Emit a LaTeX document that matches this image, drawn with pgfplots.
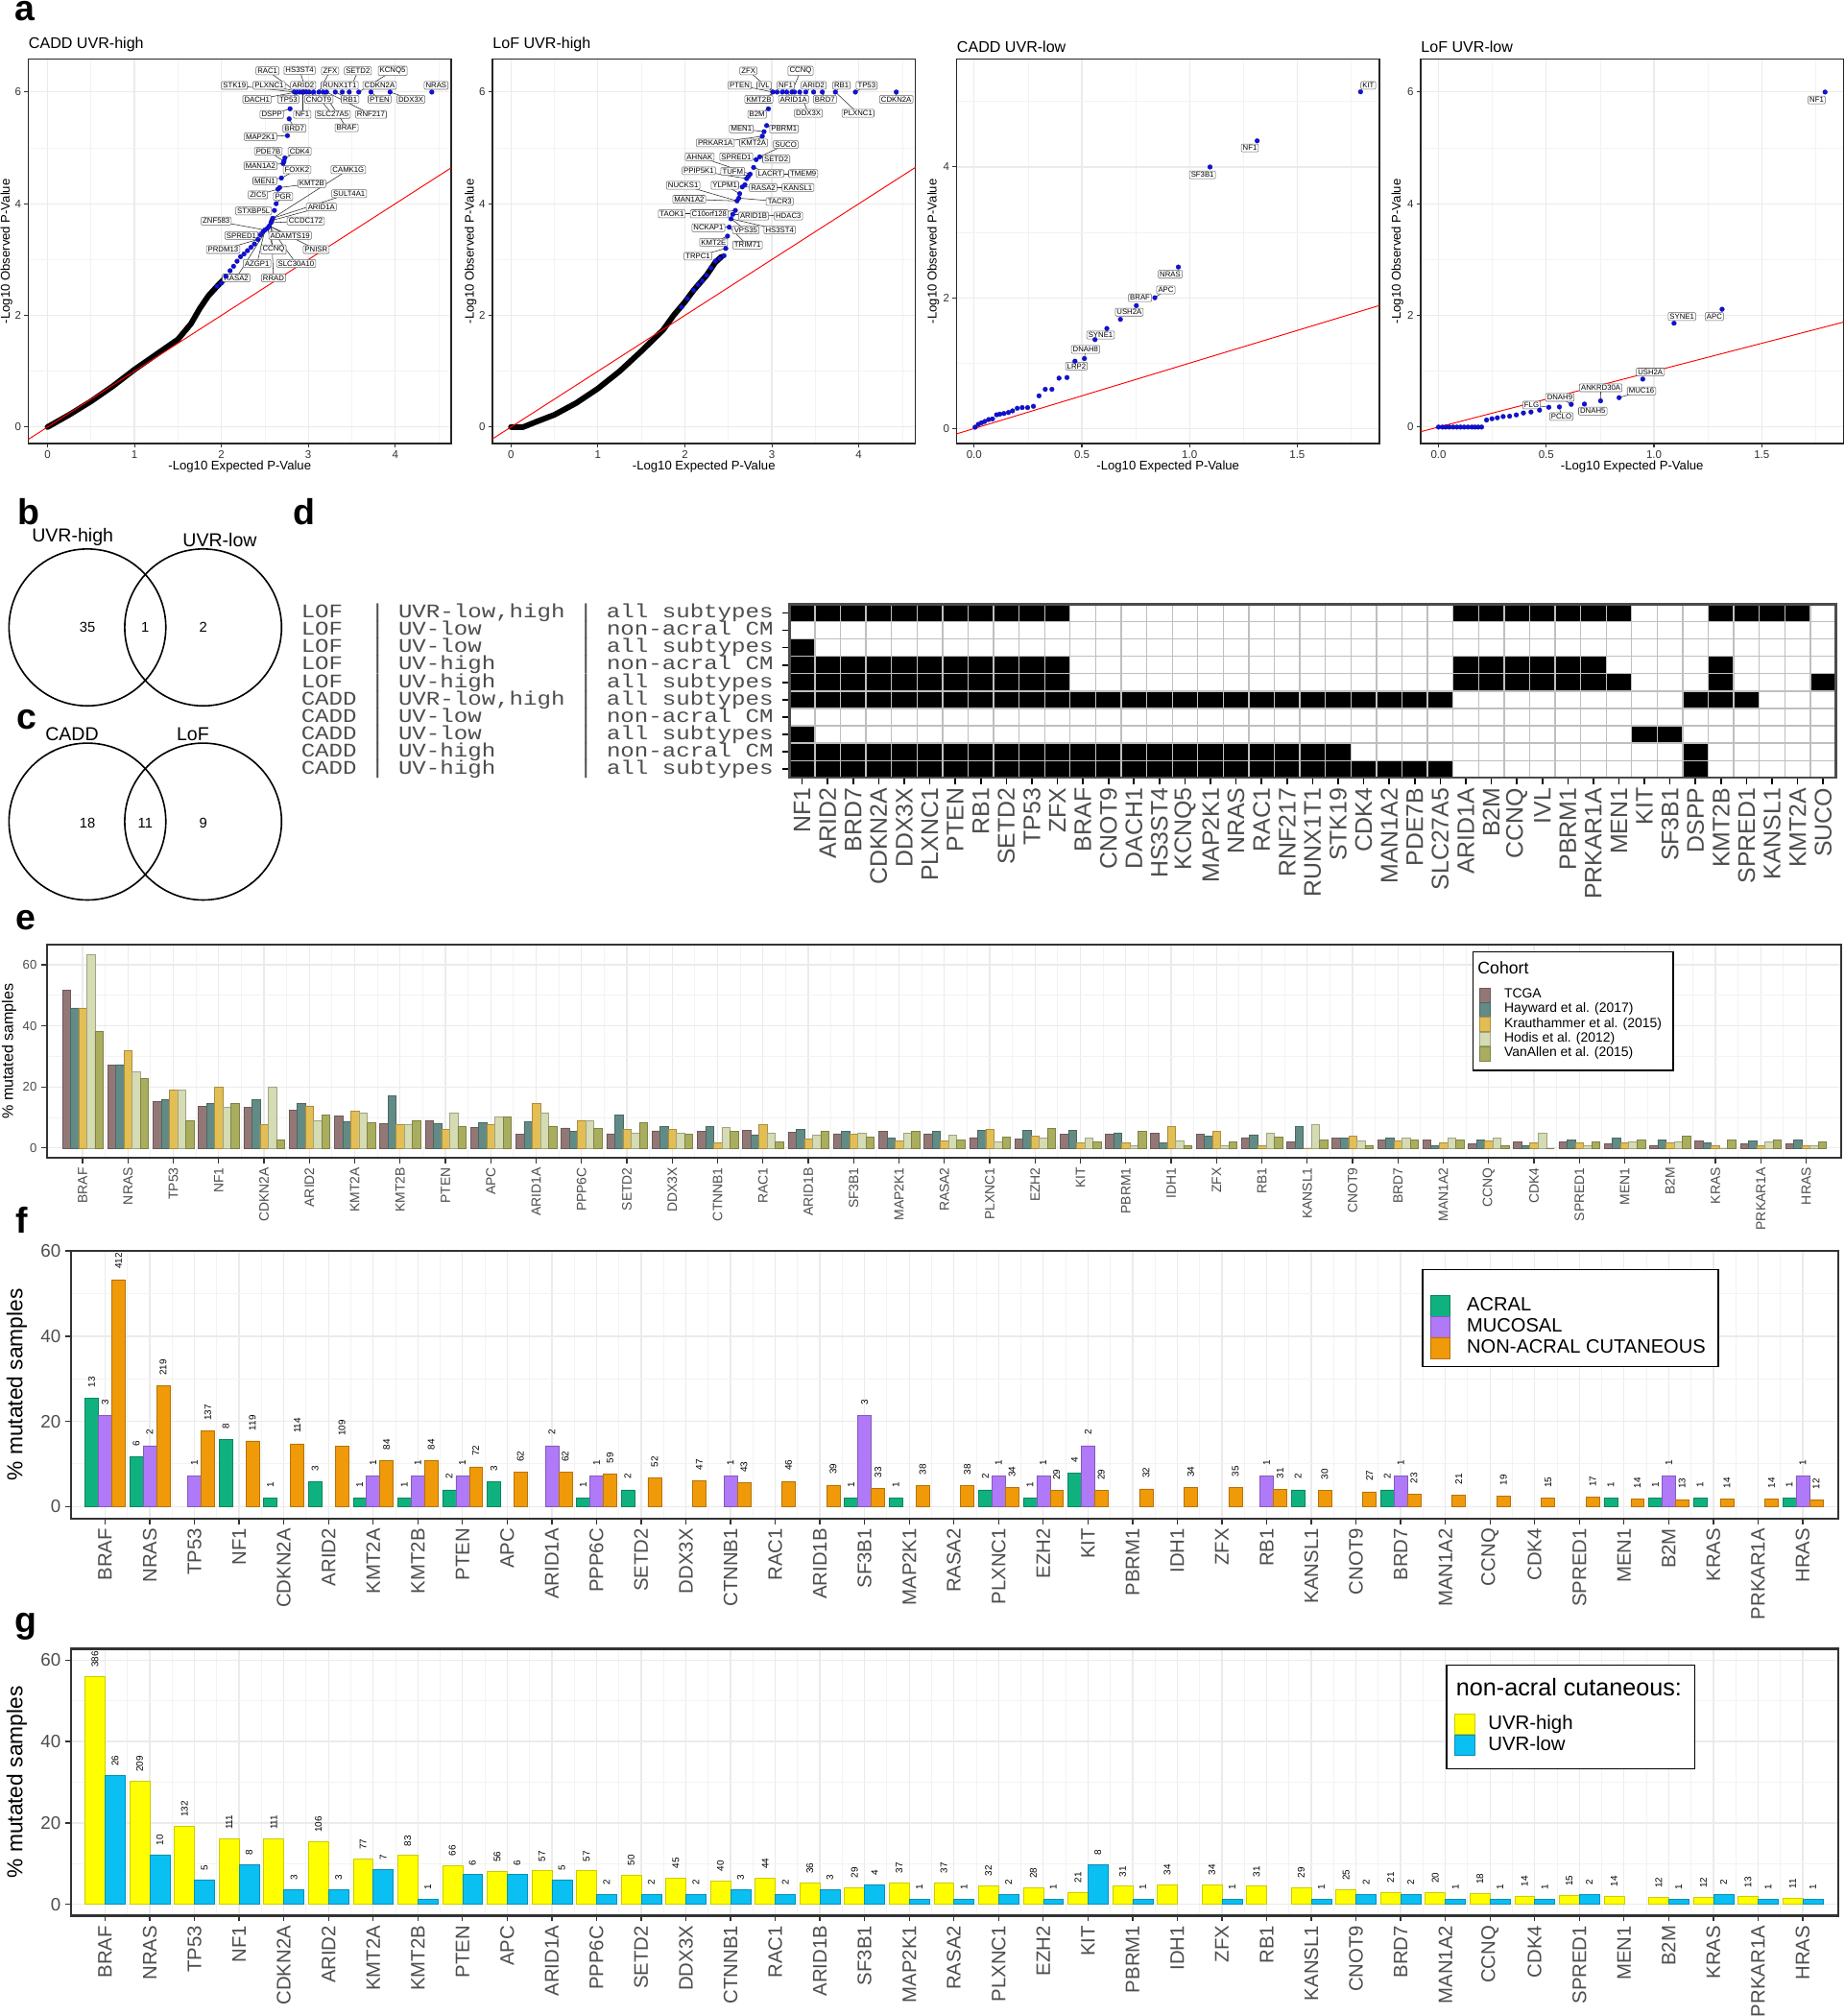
\documentclass[border=0pt]{standalone}
\usepackage{fontspec}
\setmainfont{Liberation Sans}
\setsansfont{Liberation Sans}
\newfontfamily\rowfont[FakeStretch=1.2]{Liberation Mono}
\usepackage{pgfplots}
\usepackage{pgfplotstable}
\pgfplotsset{compat=1.18}
\newcommand\fs[1]{\fontsize{#1}{#1}\selectfont}
\definecolor{gridc}{HTML}{EBEBEB}
\definecolor{tickc}{HTML}{4D4D4D}
\definecolor{ptblue}{HTML}{1010E0}
\definecolor{cTCGA}{HTML}{937777}
\definecolor{cHay}{HTML}{638B85}
\definecolor{cKra}{HTML}{E3BE55}
\definecolor{cHod}{HTML}{D5DBB2}
\definecolor{cVan}{HTML}{A9AE5E}
\definecolor{cAcr}{HTML}{0FB27F}
\definecolor{cMuc}{HTML}{AF79F7}
\definecolor{cNon}{HTML}{F09A0A}
\definecolor{cHigh}{HTML}{FFFF00}
\definecolor{cLow}{HTML}{0ABFF2}
\tikzset{gl/.style={draw=black!60, fill=white, rounded corners=0.4pt, inner xsep=0.6pt, inner ysep=0.5pt, line width=0.2pt, font=\fs{2.9}}}
\pgfplotsset{
  every axis/.append style={scale only axis, clip=false, /pgf/number format/assume math mode=true},
  qq/.style={anchor=north west, width=164.5pt, height=149.5pt,
    axis line style={draw=black!85, line width=0.6pt},
    grid=both, major grid style={draw=gridc, line width=0.45pt}, minor grid style={draw=gridc!60!white, line width=0.3pt},
    tick align=outside, major tick length=1.6pt, minor tick length=0pt,
    xtick pos=bottom, ytick pos=left,
    tick style={draw=black!80, line width=0.4pt},
    tick label style={font=\fs{4.3}, color=black!80, inner sep=1pt}},
  bars/.style={anchor=north west,
    xtick={1,...,39},
    xticklabels={BRAF,NRAS,TP53,NF1,CDKN2A,ARID2,KMT2A,KMT2B,PTEN,APC,ARID1A,PPP6C,SETD2,DDX3X,CTNNB1,RAC1,ARID1B,SF3B1,MAP2K1,RASA2,PLXNC1,EZH2,KIT,PBRM1,IDH1,ZFX,RB1,KANSL1,CNOT9,BRD7,MAN1A2,CCNQ,CDK4,SPRED1,MEN1,B2M,KRAS,PRKAR1A,HRAS},
    minor xtick={1.5,2.5,...,38.5},
    ytick={0,20,40,60}, minor ytick={10,30,50},
    grid=both, major grid style={draw=gridc, line width=0.5pt}, minor grid style={draw=gridc!60!white, line width=0.35pt},
    tick align=outside, major tick length=2.2pt, minor tick length=0pt,
    xtick pos=bottom, ytick pos=left,
    tick style={draw=black!80, line width=0.5pt},
    axis line style={draw=black!80, line width=0.8pt},
    x tick label style={rotate=90, anchor=east, color=tickc, inner sep=1.5pt},
    y tick label style={color=tickc, inner sep=1.5pt},
    legend cell align=left},
  lab/.style={nodes near coords, point meta=explicit symbolic,
    every node near coord/.append style={rotate=90, anchor=west, font=\fs{3.7}, inner xsep=#1, inner ysep=0pt, text=black}},
}
\newcommand\blk[4]{\addplot[fill=black, draw=none] coordinates {(#1,#3)(#2,#3)(#2,#4)(#1,#4)};}
\newcommand\lead[4]{\draw[black!85, line width=0.2pt] (axis cs:#1,#2) -- (axis cs:#3,#4);}

\pgfplotstableread{
x tcga hay kra hod van
1 51.7 45.9 45.9 63.5 38.2
2 27.1 27.3 32.0 25.0 22.8
3 15.2 15.9 19.1 19.1 9.1
4 13.6 14.7 19.9 13.4 14.5
5 13.4 15.9 7.7 20.1 2.8
6 12.5 14.7 13.8 9.1 10.9
7 10.4 8.7 12.2 11.6 8.2
8 7.9 17.0 7.7 7.7 9.1
9 9.0 8.1 6.1 11.6 7.2
10 6.8 8.2 7.7 10.1 10.1
11 4.6 8.7 14.5 11.6 7.2
12 6.6 5.4 9.1 9.1 6.5
13 4.7 10.9 6.2 5.0 8.2
14 5.6 7.1 6.1 5.0 4.5
15 5.5 7.1 1.7 6.7 5.4
16 5.9 4.4 7.7 5.0 1.9
17 5.1 6.1 3.0 4.4 5.4
18 4.7 5.4 4.5 5.0 3.7
19 5.4 3.3 2.3 5.0 5.4
20 4.7 5.4 2.3 4.3 2.7
21 3.4 5.9 6.2 1.9 3.7
22 3.0 5.9 3.8 3.3 6.5
23 4.6 5.9 1.7 3.3 1.9
24 4.6 5.0 1.7 0.9 5.4
25 4.9 1.7 7.0 2.5 0.9
26 4.6 3.8 5.4 0.9 1.9
27 3.4 4.4 0.9 5.0 3.7
28 2.1 7.1 0.0 7.7 2.7
29 3.3 3.3 3.8 2.5 0.9
30 2.7 3.3 2.3 3.3 2.7
31 2.7 0.9 1.7 3.3 2.7
32 1.5 2.7 2.3 3.3 0.9
33 2.1 0.9 1.7 5.0 0.0
34 1.9 2.7 1.7 0.9 1.9
35 1.3 3.3 1.7 1.9 2.7
36 0.9 2.7 1.7 1.9 3.8
37 2.3 1.7 0.9 0.0 2.7
38 1.5 2.3 0.9 1.9 2.7
39 1.5 2.7 0.9 0.9 1.9
}\tabE

\begin{document}
\begin{tikzpicture}
\path[use as bounding box, fill=white] (0,0) rectangle (717.5pt,784pt);

% ---------------- panel a, plot 1 ----------------
\begin{axis}[qq, at={(11pt,761pt)}, xmin=-0.221, xmax=4.644, ymin=-0.295, ymax=6.59,
  xtick={0,1,2,3,4}, minor xtick={0.5,1.5,2.5,3.5,4.5}, ytick={0,2,4,6}, minor ytick={1,3,5}]
\addplot[black, line width=2.2pt, line cap=round, line join=round] coordinates {(0,0)(0.25,0.22)(0.5,0.46)(0.75,0.73)(1.0,1.03)(1.25,1.3)(1.5,1.57)(1.65,1.85)(1.75,2.12)(1.85,2.35)(1.95,2.52)(2.05,2.68)};
\addplot[red, line width=0.35pt] coordinates {(-0.221,-0.221)(4.644,4.644)};
\addplot[only marks, mark=*, mark size=0.9pt, color=ptblue, mark options={draw=ptblue!60!black, line width=0.1pt}] coordinates {(1.95,2.52)(2.0,2.58)(2.05,2.7)(2.1,2.8)(2.14,2.88)(2.18,2.97)(2.22,3.05)(2.26,3.1)(2.3,3.16)(2.34,3.22)(2.38,3.28)(2.42,3.36)(2.45,3.44)(2.48,3.5)(2.5,3.53)(2.53,3.56)(2.55,3.6)(2.57,3.66)(2.58,3.7)(2.59,3.74)(2.61,3.88)(2.63,4.0)(2.65,4.26)(2.67,4.29)(2.69,4.46)(2.71,4.72)(2.72,4.76)(2.73,4.82)(2.76,5.22)(2.78,5.52)(2.79,5.70)(2.84,6)(2.87,6)(2.9,6)(2.93,6)(2.95,6)(2.98,6)(3.01,6)(3.06,6)(3.12,6)(3.17,6)(3.21,6)(3.31,6)(3.39,6)(3.47,6)(3.58,6)(3.72,6)(3.94,6)(4.42,6)};
\lead{2.53}{6.38}{2.87}{6}\lead{2.90}{6.39}{2.98}{6}\lead{3.25}{6.38}{3.12}{6}\lead{3.57}{6.38}{3.47}{6}
\lead{3.97}{6.38}{3.58}{6}\lead{2.15}{6.12}{2.84}{6}\lead{2.55}{6.12}{2.9}{6}\lead{2.94}{6.12}{2.95}{6}
\lead{2.41}{5.87}{2.87}{6}\lead{2.77}{5.87}{2.9}{6}\lead{3.12}{5.87}{3.01}{6}\lead{3.48}{5.87}{3.31}{6}
\lead{3.82}{5.87}{3.72}{6}\lead{4.18}{5.87}{3.94}{6}\lead{2.93}{5.60}{2.93}{6}\lead{3.28}{5.60}{3.06}{6}
\lead{3.72}{5.60}{3.21}{6}\lead{3.44}{5.36}{3.17}{6}\lead{2.58}{5.60}{2.79}{5.70}\lead{2.84}{5.35}{2.78}{5.52}
\lead{2.45}{5.20}{2.76}{5.22}\lead{2.90}{4.94}{2.73}{4.82}\lead{2.54}{4.94}{2.72}{4.76}\lead{2.45}{4.68}{2.71}{4.72}
\lead{2.87}{4.61}{2.69}{4.46}\lead{2.50}{4.41}{2.69}{4.46}\lead{3.04}{4.36}{2.67}{4.29}\lead{2.42}{4.16}{2.65}{4.26}
\lead{2.71}{4.13}{2.63}{4.0}\lead{2.37}{3.87}{2.61}{3.88}\lead{3.46}{4.61}{2.59}{3.74}\lead{3.47}{4.18}{2.59}{3.74}
\lead{3.15}{3.94}{2.58}{3.7}\lead{2.97}{3.69}{2.57}{3.66}\lead{1.94}{3.69}{2.5}{3.53}\lead{2.23}{3.43}{2.48}{3.5}
\lead{2.79}{3.43}{2.55}{3.6}\lead{2.02}{3.18}{2.42}{3.36}\lead{2.60}{3.18}{2.53}{3.56}\lead{3.09}{3.18}{2.55}{3.6}
\lead{2.41}{2.93}{2.5}{3.53}\lead{2.86}{2.93}{2.55}{3.6}\lead{2.17}{2.67}{2.53}{3.56}\lead{2.60}{2.67}{2.57}{3.66}
\node[gl] at (axis cs:2.53,6.38) {RAC1};
\node[gl] at (axis cs:2.90,6.39) {HS3ST4};
\node[gl] at (axis cs:3.25,6.38) {ZFX};
\node[gl] at (axis cs:3.57,6.38) {SETD2};
\node[gl] at (axis cs:3.97,6.38) {KCNQ5};
\node[gl] at (axis cs:2.15,6.12) {STK19};
\node[gl] at (axis cs:2.55,6.12) {PLXNC1};
\node[gl] at (axis cs:2.94,6.12) {ARID2};
\node[gl] at (axis cs:3.36,6.12) {RUNX1T1};
\node[gl] at (axis cs:3.82,6.12) {CDKN2A};
\node[gl] at (axis cs:4.47,6.12) {NRAS};
\node[gl] at (axis cs:2.41,5.87) {DACH1};
\node[gl] at (axis cs:2.77,5.87) {TP53};
\node[gl] at (axis cs:3.12,5.87) {CNOT9};
\node[gl] at (axis cs:3.48,5.87) {RB1};
\node[gl] at (axis cs:3.82,5.87) {PTEN};
\node[gl] at (axis cs:4.18,5.87) {DDX3X};
\node[gl] at (axis cs:2.58,5.60) {DSPP};
\node[gl] at (axis cs:2.93,5.60) {NF1};
\node[gl] at (axis cs:3.28,5.60) {SLC27A5};
\node[gl] at (axis cs:3.72,5.60) {RNF217};
\node[gl] at (axis cs:2.84,5.35) {BRD7};
\node[gl] at (axis cs:3.44,5.36) {BRAF};
\node[gl] at (axis cs:2.45,5.20) {MAP2K1};
\node[gl] at (axis cs:2.54,4.94) {PDE7B};
\node[gl] at (axis cs:2.90,4.94) {CDK4};
\node[gl] at (axis cs:2.45,4.68) {MAN1A2};
\node[gl] at (axis cs:2.87,4.61) {FOXK2};
\node[gl] at (axis cs:3.46,4.61) {CAMK1G};
\node[gl] at (axis cs:2.50,4.41) {MEN1};
\node[gl] at (axis cs:3.04,4.36) {KMT2B};
\node[gl] at (axis cs:3.47,4.18) {SULT4A1};
\node[gl] at (axis cs:2.42,4.16) {ZIC5};
\node[gl] at (axis cs:2.71,4.13) {PGR};
\node[gl] at (axis cs:3.15,3.94) {ARID1A};
\node[gl] at (axis cs:2.37,3.87) {STXBP5L};
\node[gl] at (axis cs:1.94,3.69) {ZNF583};
\node[gl] at (axis cs:2.97,3.69) {CCDC172};
\node[gl] at (axis cs:2.23,3.43) {SPRED1};
\node[gl] at (axis cs:2.79,3.43) {ADAMTS19};
\node[gl] at (axis cs:2.02,3.18) {PRDM13};
\node[gl] at (axis cs:2.60,3.18) {CCNQ};
\node[gl] at (axis cs:3.09,3.18) {PNISR};
\node[gl] at (axis cs:2.41,2.93) {AZGP1};
\node[gl] at (axis cs:2.86,2.93) {SLC30A10};
\node[gl] at (axis cs:2.17,2.67) {RASA2};
\node[gl] at (axis cs:2.60,2.67) {RRAD};
\node[font=\fs{4.9}] at (axis description cs:0.5,-0.0602) {-Log10 Expected P-Value};
\node[font=\fs{4.9}, rotate=90] at (axis description cs:-0.0517,0.5) {-Log10 Observed P-Value};
\node[font=\fs{6}, anchor=south west, inner sep=0pt] at (axis description cs:0,1.017) {CADD UVR-high};
\end{axis}

% ---------------- panel a, plot 2 ----------------
\begin{axis}[qq, at={(191.5pt,761pt)}, xmin=-0.213, xmax=4.65, ymin=-0.295, ymax=6.59,
  xtick={0,1,2,3,4}, minor xtick={0.5,1.5,2.5,3.5,4.5}, ytick={0,2,4,6}, minor ytick={1,3,5}]
\addplot[black, line width=2.2pt, line cap=round, line join=round] coordinates {(0,0)(0.14,0)(0.3,0.1)(0.5,0.22)(0.75,0.43)(1.0,0.69)(1.25,1.0)(1.5,1.36)(1.75,1.74)(1.87,2.0)(2.0,2.24)(2.1,2.45)(2.25,2.72)(2.35,2.95)(2.42,3.05)};
\addplot[red, line width=0.35pt] coordinates {(-0.213,-0.213)(4.65,4.65)};
\addplot[only marks, mark=*, mark size=0.9pt, color=ptblue, mark options={draw=ptblue!60!black, line width=0.1pt}] coordinates {(1.96,2.15)(2.03,2.3)(2.1,2.45)(2.15,2.55)(2.2,2.62)(2.25,2.72)(2.3,2.85)(2.35,2.97)(2.4,3.02)(2.45,3.07)(2.47,3.2)(2.49,3.42)(2.51,3.58)(2.53,3.73)(2.55,3.81)(2.58,3.88)(2.6,4.05)(2.62,4.1)(2.63,4.18)(2.66,4.3)(2.69,4.34)(2.71,4.45)(2.73,4.49)(2.75,4.53)(2.79,4.65)(2.82,4.79)(2.86,4.84)(2.89,5.21)(2.91,5.29)(2.94,5.40)(2.96,5.70)(3.01,6)(3.06,6)(3.12,6)(3.17,6)(3.23,6)(3.26,6)(3.32,6)(3.39,6)(3.48,6)(3.58,6)(3.73,6)(3.96,6)(4.43,6)};
\lead{2.73}{6.38}{3.01}{6}\lead{3.33}{6.38}{3.23}{6}\lead{2.63}{6.12}{3.01}{6}\lead{2.91}{6.12}{3.06}{6}
\lead{3.16}{6.12}{3.12}{6}\lead{3.48}{6.12}{3.39}{6}\lead{3.80}{6.12}{3.73}{6}\lead{4.09}{6.12}{3.96}{6}
\lead{2.85}{5.87}{3.06}{6}\lead{3.25}{5.87}{3.17}{6}\lead{3.61}{5.87}{3.58}{6}\lead{4.43}{5.87}{4.43}{6}
\lead{2.83}{5.60}{2.96}{5.70}\lead{3.42}{5.62}{3.32}{6}\lead{3.99}{5.62}{3.73}{6}\lead{2.65}{5.34}{2.91}{5.29}
\lead{3.14}{5.34}{2.94}{5.40}\lead{2.35}{5.09}{2.89}{5.21}\lead{2.79}{5.09}{2.89}{5.21}\lead{3.16}{5.06}{2.86}{4.84}
\lead{2.17}{4.84}{2.75}{4.53}\lead{2.59}{4.84}{2.82}{4.79}\lead{3.05}{4.80}{2.86}{4.84}\lead{2.16}{4.59}{2.71}{4.45}
\lead{2.55}{4.58}{2.73}{4.49}\lead{2.98}{4.54}{2.79}{4.65}\lead{3.36}{4.54}{2.98}{4.54}\lead{1.98}{4.33}{2.6}{4.05}
\lead{2.46}{4.33}{2.63}{4.18}\lead{2.90}{4.29}{2.66}{4.3}\lead{3.30}{4.29}{2.90}{4.29}\lead{2.05}{4.08}{2.6}{4.05}
\lead{3.09}{4.04}{2.62}{4.1}\lead{1.85}{3.82}{2.28}{3.82}\lead{2.28}{3.82}{2.58}{3.88}\lead{2.79}{3.78}{2.55}{3.81}
\lead{3.19}{3.78}{2.55}{3.81}\lead{2.27}{3.57}{2.51}{3.58}\lead{2.70}{3.53}{2.53}{3.73}\lead{3.09}{3.53}{2.53}{3.73}
\lead{2.33}{3.31}{2.49}{3.42}\lead{2.72}{3.26}{2.51}{3.58}\lead{2.15}{3.06}{2.47}{3.2}
\node[gl] at (axis cs:2.73,6.38) {ZFX};
\node[gl] at (axis cs:3.33,6.38) {CCNQ};
\node[gl] at (axis cs:2.63,6.12) {PTEN};
\node[gl] at (axis cs:2.91,6.12) {IVL};
\node[gl] at (axis cs:3.16,6.12) {NF1};
\node[gl] at (axis cs:3.48,6.12) {ARID2};
\node[gl] at (axis cs:3.80,6.12) {RB1};
\node[gl] at (axis cs:4.09,6.12) {TP53};
\node[gl] at (axis cs:2.85,5.87) {KMT2B};
\node[gl] at (axis cs:3.25,5.87) {ARID1A};
\node[gl] at (axis cs:3.61,5.87) {BRD7};
\node[gl] at (axis cs:4.43,5.87) {CDKN2A};
\node[gl] at (axis cs:2.83,5.60) {B2M};
\node[gl] at (axis cs:3.42,5.62) {DDX3X};
\node[gl] at (axis cs:3.99,5.62) {PLXNC1};
\node[gl] at (axis cs:2.65,5.34) {MEN1};
\node[gl] at (axis cs:3.14,5.34) {PBRM1};
\node[gl] at (axis cs:2.35,5.09) {PRKAR1A};
\node[gl] at (axis cs:2.79,5.09) {KMT2A};
\node[gl] at (axis cs:3.16,5.06) {SUCO};
\node[gl] at (axis cs:2.17,4.84) {AHNAK};
\node[gl] at (axis cs:2.59,4.84) {SPRED1};
\node[gl] at (axis cs:3.05,4.80) {SETD2};
\node[gl] at (axis cs:2.16,4.59) {PPIP5K1};
\node[gl] at (axis cs:2.55,4.58) {TUFM};
\node[gl] at (axis cs:2.98,4.54) {LACRT};
\node[gl] at (axis cs:3.36,4.54) {TMEM9};
\node[gl] at (axis cs:1.98,4.33) {NUCKS1};
\node[gl] at (axis cs:2.46,4.33) {YLPM1};
\node[gl] at (axis cs:2.90,4.29) {RASA2};
\node[gl] at (axis cs:3.30,4.29) {KANSL1};
\node[gl] at (axis cs:2.05,4.08) {MAN1A2};
\node[gl] at (axis cs:3.09,4.04) {TACR3};
\node[gl] at (axis cs:1.85,3.82) {TAOK1};
\node[gl] at (axis cs:2.28,3.82) {C10orf128};
\node[gl] at (axis cs:2.79,3.78) {ARID1B};
\node[gl] at (axis cs:3.19,3.78) {HDAC3};
\node[gl] at (axis cs:2.27,3.57) {NCKAP1};
\node[gl] at (axis cs:2.70,3.53) {VPS35};
\node[gl] at (axis cs:3.09,3.53) {HS3ST4};
\node[gl] at (axis cs:2.33,3.31) {KMT2E};
\node[gl] at (axis cs:2.72,3.26) {TRIM71};
\node[gl] at (axis cs:2.15,3.06) {TRPC1};
\node[font=\fs{4.9}] at (axis description cs:0.5,-0.0602) {-Log10 Expected P-Value};
\node[font=\fs{4.9}, rotate=90] at (axis description cs:-0.0517,0.5) {-Log10 Observed P-Value};
\node[font=\fs{6}, anchor=south west, inner sep=0pt] at (axis description cs:0,1.017) {LoF UVR-high};
\end{axis}

% ---------------- panel a, plot 3 ----------------
\begin{axis}[qq, at={(372pt,761pt)}, xmin=-0.082, xmax=1.882, ymin=-0.23, ymax=5.65,
  xtick={0,0.5,1,1.5}, xticklabels={0.0,0.5,1.0,1.5}, minor xtick={0.25,0.75,1.25,1.75}, ytick={0,2,4}, minor ytick={1,3,5}]
\addplot[red, line width=0.35pt] coordinates {(-0.082,-0.082)(1.882,1.882)};
\addplot[only marks, mark=*, mark size=0.9pt, color=ptblue, mark options={draw=ptblue!60!black, line width=0.1pt}] coordinates {(0.004,0.02)(0.019,0.064)(0.034,0.088)(0.049,0.108)(0.067,0.137)(0.085,0.147)(0.104,0.21)(0.119,0.22)(0.138,0.23)(0.159,0.245)(0.178,0.27)(0.2,0.31)(0.223,0.32)(0.248,0.32)(0.275,0.34)(0.301,0.5)(0.33,0.6)(0.361,0.6)(0.394,0.77)(0.431,0.78)(0.468,1.03)(0.512,1.07)(0.561,1.36)(0.616,1.53)(0.679,1.67)(0.753,1.88)(0.839,2.0)(0.948,2.47)(1.095,4.0)(1.314,4.40)(1.794,5.15)};
\lead{0.89}{2.12}{0.839}{2.0}\lead{0.587}{1.43}{0.561}{1.36}\lead{0.517}{1.21}{0.512}{1.07}\lead{0.475}{0.955}{0.468}{1.03}
\node[gl] at (axis cs:1.83,5.25) {KIT};
\node[gl] at (axis cs:1.28,4.29) {NF1};
\node[gl] at (axis cs:1.06,3.88) {SF3B1};
\node[gl] at (axis cs:0.91,2.36) {NRAS};
\node[gl] at (axis cs:0.89,2.12) {APC};
\node[gl] at (axis cs:0.77,2.0) {BRAF};
\node[gl] at (axis cs:0.72,1.78) {USH2A};
\node[gl] at (axis cs:0.587,1.43) {SYNE1};
\node[gl] at (axis cs:0.517,1.21) {DNAH8};
\node[gl] at (axis cs:0.475,0.955) {LRP2};
\node[font=\fs{4.9}] at (axis description cs:0.5,-0.0602) {-Log10 Expected P-Value};
\node[font=\fs{4.9}, rotate=90] at (axis description cs:-0.0547,0.5) {-Log10 Observed P-Value};
\node[font=\fs{6}, anchor=south west, inner sep=0pt] at (axis description cs:0,1.017) {CADD UVR-low};
\end{axis}

% ---------------- panel a, plot 4 ----------------
\begin{axis}[qq, at={(552.5pt,761pt)}, xmin=-0.083, xmax=1.88, ymin=-0.295, ymax=6.59,
  xtick={0,0.5,1,1.5}, xticklabels={0.0,0.5,1.0,1.5}, minor xtick={0.25,0.75,1.25,1.75}, ytick={0,2,4,6}, minor ytick={1,3,5}]
\addplot[red, line width=0.35pt] coordinates {(-0.083,-0.083)(1.88,1.88)};
\addplot[only marks, mark=*, mark size=0.9pt, color=ptblue, mark options={draw=ptblue!60!black, line width=0.1pt}] coordinates {(0,0)(0.018,0)(0.033,0)(0.05,0)(0.068,0)(0.085,0)(0.102,0)(0.119,0)(0.137,0)(0.155,0)(0.169,0)(0.184,0)(0.2,0)(0.223,0.126)(0.248,0.149)(0.273,0.166)(0.3,0.189)(0.33,0.195)(0.361,0.218)(0.394,0.252)(0.429,0.269)(0.469,0.303)(0.512,0.355)(0.561,0.361)(0.616,0.406)(0.677,0.412)(0.752,0.469)(0.838,0.527)(0.948,0.859)(1.093,1.86)(1.316,2.11)(1.794,6.0)};
\lead{0.432}{0.395}{0.512}{0.355}\lead{0.57}{0.189}{0.561}{0.361}\lead{0.753}{0.704}{0.752}{0.469}\lead{0.942}{0.647}{0.838}{0.527}\lead{0.563}{0.532}{0.616}{0.406}
\node[gl] at (axis cs:1.755,5.86) {NF1};
\node[gl] at (axis cs:1.13,1.98) {SYNE1};
\node[gl] at (axis cs:1.28,1.98) {APC};
\node[gl] at (axis cs:0.983,0.985) {USH2A};
\node[gl] at (axis cs:0.942,0.647) {MUC16};
\node[gl] at (axis cs:0.753,0.704) {ANKRD30A};
\node[gl] at (axis cs:0.563,0.532) {DNAH9};
\node[gl] at (axis cs:0.432,0.395) {FLG};
\node[gl] at (axis cs:0.57,0.189) {PCLO};
\node[gl] at (axis cs:0.716,0.286) {DNAH5};
\node[font=\fs{4.9}] at (axis description cs:0.5,-0.0602) {-Log10 Expected P-Value};
\node[font=\fs{4.9}, rotate=90] at (axis description cs:-0.0547,0.5) {-Log10 Observed P-Value};
\node[font=\fs{6}, anchor=south west, inner sep=0pt] at (axis description cs:0,1.017) {LoF UVR-low};
\end{axis}

% ---------------- panels b, c (Venn) ----------------
\begin{axis}[at={(0pt,591.5pt)}, anchor=north west, width=115pt, height=157.5pt,
  xmin=0, xmax=230, ymin=385, ymax=700, y dir=reverse, hide axis]
\draw[line width=0.6pt] (axis cs:68,488) circle[radius=30.5pt];
\draw[line width=0.6pt] (axis cs:158,488) circle[radius=30.5pt];
\draw[line width=0.6pt] (axis cs:68,639) circle[radius=30.5pt];
\draw[line width=0.6pt] (axis cs:158,639) circle[radius=30.5pt];
\node[font=\fs{7.3}] at (axis cs:56.5,418) {UVR-high};
\node[font=\fs{7.3}] at (axis cs:171,420) {UVR-low};
\node[font=\fs{7.3}] at (axis cs:56,571) {CADD};
\node[font=\fs{7.3}] at (axis cs:150,571) {LoF};
\node[font=\fs{5.5}] at (axis cs:68,488) {35};
\node[font=\fs{5.5}] at (axis cs:113,488) {1};
\node[font=\fs{5.5}] at (axis cs:158,488) {2};
\node[font=\fs{5.5}] at (axis cs:68,640) {18};
\node[font=\fs{5.5}] at (axis cs:113,640) {11};
\node[font=\fs{5.5}] at (axis cs:158,640) {9};
\end{axis}

% ---------------- panel d (tile matrix) ----------------
\begin{axis}[at={(307pt,549pt)}, anchor=north west, width=407pt, height=67.5pt,
  xmin=0.5, xmax=41.5, ymin=0.5, ymax=10.5, y dir=reverse,
  xtick={1,...,41}, ytick={1,...,10},
  xticklabels={NF1,ARID2,BRD7,CDKN2A,DDX3X,PLXNC1,PTEN,RB1,SETD2,TP53,ZFX,BRAF,CNOT9,DACH1,HS3ST4,KCNQ5,MAP2K1,NRAS,RAC1,RNF217,RUNX1T1,STK19,CDK4,MAN1A2,PDE7B,SLC27A5,ARID1A,B2M,CCNQ,IVL,PBRM1,PRKAR1A,MEN1,KIT,SF3B1,DSPP,KMT2B,SPRED1,KANSL1,KMT2A,SUCO},
  yticklabels={{LOF~~|~UVR-low,high~|~all~subtypes},{LOF~~|~UV-low~~~~~~~|~non-acral~CM},{LOF~~|~UV-low~~~~~~~|~all~subtypes},{LOF~~|~UV-high~~~~~~|~non-acral~CM},{LOF~~|~UV-high~~~~~~|~all~subtypes},{CADD~|~UVR-low,high~|~all~subtypes},{CADD~|~UV-low~~~~~~~|~non-acral~CM},{CADD~|~UV-low~~~~~~~|~all~subtypes},{CADD~|~UV-high~~~~~~|~non-acral~CM},{CADD~|~UV-high~~~~~~|~all~subtypes}},
  minor xtick={1.5,2.5,...,40.5}, minor ytick={1.5,2.5,...,9.5},
  xminorgrids, yminorgrids, minor grid style={draw=black!25, line width=0.5pt},
  axis on top, tick align=outside, major tick length=2.7pt, minor tick length=0pt,
  xtick pos=bottom, ytick pos=left, tick style={draw=black, line width=0.6pt},
  x tick label style={rotate=90, anchor=east, font=\fs{9.3}, color=tickc, inner sep=1pt},
  y tick label style={font=\rowfont\fs{7.5}, color=tickc},
  axis line style={draw=black!70, line width=0.9pt}]
\blk{0.5}{11.5}{0.5}{1.5}
\blk{26.5}{33.5}{0.5}{1.5}
\blk{36.5}{40.5}{0.5}{1.5}
\blk{0.5}{1.5}{2.5}{3.5}
\blk{0.5}{11.5}{3.5}{4.5}
\blk{26.5}{32.5}{3.5}{4.5}
\blk{36.5}{37.5}{3.5}{4.5}
\blk{0.5}{11.5}{4.5}{5.5}
\blk{26.5}{33.5}{4.5}{5.5}
\blk{36.5}{37.5}{4.5}{5.5}
\blk{40.5}{41.5}{4.5}{5.5}
\blk{0.5}{26.5}{5.5}{6.5}
\blk{35.5}{38.5}{5.5}{6.5}
\blk{0.5}{1.5}{7.5}{8.5}
\blk{33.5}{35.5}{7.5}{8.5}
\blk{0.5}{22.5}{8.5}{9.5}
\blk{35.5}{36.5}{8.5}{9.5}
\blk{0.5}{26.5}{9.5}{10.5}
\blk{35.5}{36.5}{9.5}{10.5}
\end{axis}

% ---------------- panel e ----------------
\begin{axis}[bars, at={(18.2pt,416.5pt)}, width=697.8pt, height=82.7pt,
  xmin=0.21, xmax=39.77, ymin=-3.17, ymax=66.5,
  ybar, bar width=0.18,
  x tick label style={font=\fs{5.2}}, y tick label style={font=\fs{4.9}},
  legend image code/.code={\fill[#1] (0pt,-2.75pt) rectangle (4pt,2.75pt);},
  legend style={at={(0.7944,0.9716)}, anchor=north west, draw=black, line width=0.6pt, font=\fs{5.2}, row sep=0pt, column sep=3.5pt, inner xsep=2.5pt, inner ysep=3.7pt, nodes={inner ysep=0pt}}]
\addlegendimage{empty legend}\addlegendentry{\hspace*{-10.3pt}\raisebox{4pt}{\fs{6.6}Cohort}}
\addplot[bar shift=-0.36, fill=cTCGA, draw=cTCGA!75!black, line width=0.2pt] table[x=x,y=tcga]{\tabE};
\addlegendentry{TCGA}
\addplot[bar shift=-0.18, fill=cHay, draw=cHay!75!black, line width=0.2pt] table[x=x,y=hay]{\tabE};
\addlegendentry{Hayward et al. (2017)}
\addplot[bar shift=0, fill=cKra, draw=cKra!75!black, line width=0.2pt] table[x=x,y=kra]{\tabE};
\addlegendentry{Krauthammer et al. (2015)}
\addplot[bar shift=0.18, fill=cHod, draw=cHod!75!black, line width=0.2pt] table[x=x,y=hod]{\tabE};
\addlegendentry{Hodis et al. (2012)}
\addplot[bar shift=0.36, fill=cVan, draw=cVan!75!black, line width=0.2pt] table[x=x,y=van]{\tabE};
\addlegendentry{VanAllen et al. (2015)}
\node[rotate=90, font=\fs{6}] at (axis description cs:-0.021,0.5) {\% mutated samples};
\end{axis}

% ---------------- panel f ----------------
\begin{axis}[bars, at={(27.5pt,297.5pt)}, width=687.5pt, height=104pt,
  xmin=0.23, xmax=39.8, ymin=-2.8, ymax=60,
  ybar, bar width=0.3,
  x tick label style={font=\fs{7.6}}, y tick label style={font=\fs{7}},
  legend image code/.code={\fill[#1] (0pt,-4pt) rectangle (7.5pt,4pt);},
  legend style={at={(0.7644,0.9327)}, anchor=north west, draw=black, line width=0.6pt, font=\fs{7.5}, row sep=0pt, column sep=4.5pt, inner xsep=3pt, inner ysep=3pt, nodes={inner ysep=0pt}}]
\addlegendimage{empty legend}\addlegendentry{\rule{0pt}{5.5pt}}
\addplot[bar shift=-0.3, fill=cAcr, draw=cAcr!75!black, line width=0.2pt, lab=4pt] coordinates {(1,25.49)[13] (2,11.76)[6] (4,15.69)[8] (5,1.96)[1] (6,5.88)[3] (7,1.96)[1] (8,1.96)[1] (9,3.92)[2] (10,5.88)[3] (12,1.96)[1] (13,3.92)[2] (18,1.96)[1] (19,1.96)[1] (21,3.92)[2] (22,1.96)[1] (23,7.84)[4] (28,3.92)[2] (30,3.92)[2] (35,1.96)[1] (36,1.96)[1] (37,1.96)[1] (39,1.96)[1]};
\addlegendentry{ACRAL}
\addplot[bar shift=0, fill=cMuc, draw=cMuc!75!black, line width=0.2pt, lab=4pt] coordinates {(1,21.43)[3] (2,14.29)[2] (3,7.14)[1] (7,7.14)[1] (8,7.14)[1] (9,7.14)[1] (11,14.29)[2] (12,7.14)[1] (15,7.14)[1] (18,21.43)[3] (21,7.14)[1] (22,7.14)[1] (23,14.29)[2] (27,7.14)[1] (30,7.14)[1] (36,7.14)[1] (39,7.14)[1]};
\addlegendentry{MUCOSAL}
\addplot[bar shift=0.3, fill=cNon, draw=cNon!75!black, line width=0.2pt, lab=4pt] coordinates {(1,53.30)[412] (2,28.33)[219] (3,17.72)[137] (4,15.39)[119] (5,14.75)[114] (6,14.10)[109] (7,10.87)[84] (8,10.87)[84] (9,9.31)[72] (10,8.02)[62] (11,8.02)[62] (12,7.63)[59] (13,6.73)[52] (14,6.08)[47] (15,5.56)[43] (16,5.95)[46] (17,5.05)[39] (18,4.27)[33] (19,4.92)[38] (20,4.92)[38] (21,4.40)[34] (22,3.75)[29] (23,3.75)[29] (24,4.14)[32] (25,4.40)[34] (26,4.53)[35] (27,4.01)[31] (28,3.88)[30] (29,3.49)[27] (30,2.98)[23] (31,2.72)[21] (32,2.46)[19] (33,1.94)[15] (34,2.20)[17] (35,1.81)[14] (36,1.68)[13] (37,1.81)[14] (38,1.81)[14] (39,1.55)[12]};
\addlegendentry{NON-ACRAL CUTANEOUS}
\node[rotate=90, font=\fs{8.5}] at (axis description cs:-0.0305,0.5) {\% mutated samples};
\end{axis}

% ---------------- panel g ----------------
\begin{axis}[bars, at={(27.5pt,142.8pt)}, width=687.5pt, height=103.8pt,
  xmin=0.23, xmax=39.8, ymin=-2.8, ymax=62.8,
  ybar, bar width=0.45,
  x tick label style={font=\fs{7.6}}, y tick label style={font=\fs{7}},
  legend image code/.code={\fill[#1] (0pt,-4pt) rectangle (8pt,4pt);},
  legend style={at={(0.7779,0.9412)}, anchor=north west, draw=black, line width=0.6pt, font=\fs{7.6}, row sep=0pt, column sep=3pt, inner xsep=3pt, inner ysep=5pt, nodes={inner ysep=0pt}}]
\addlegendimage{empty legend}\addlegendentry{\hspace*{-12.5pt}\raisebox{5.5pt}{\fs{9.4}non-acral cutaneous:}}
\addplot[bar shift=-0.225, fill=cHigh, draw=cHigh!80!black, line width=0.2pt, lab=3.5pt] coordinates {(1,55.94)[386] (2,30.29)[209] (3,19.13)[132] (4,16.09)[111] (5,16.09)[111] (6,15.36)[106] (7,11.16)[77] (8,12.03)[83] (9,9.57)[66] (10,8.12)[56] (11,8.26)[57] (12,8.26)[57] (13,7.25)[50] (14,6.52)[45] (15,5.80)[40] (16,6.38)[44] (17,5.22)[36] (18,4.20)[29] (19,5.36)[37] (20,5.36)[37] (21,4.64)[32] (22,4.06)[28] (23,3.04)[21] (24,4.49)[31] (25,4.93)[34] (26,4.93)[34] (27,4.49)[31] (28,4.20)[29] (29,3.62)[25] (30,3.04)[21] (31,2.90)[20] (32,2.61)[18] (33,2.03)[14] (34,2.17)[15] (35,2.03)[14] (36,1.74)[12] (37,1.74)[12] (38,1.88)[13] (39,1.59)[11]};
\addlegendentry{UVR-high}
\addplot[bar shift=0.225, fill=cLow, draw=cLow!75!black, line width=0.2pt, lab=3.5pt] coordinates {(1,31.71)[26] (2,12.20)[10] (3,6.10)[5] (4,9.76)[8] (5,3.66)[3] (6,3.66)[3] (7,8.54)[7] (8,1.22)[1] (9,7.32)[6] (10,7.32)[6] (11,6.10)[5] (12,2.44)[2] (13,2.44)[2] (14,2.44)[2] (15,3.66)[3] (16,2.44)[2] (17,3.66)[3] (18,4.88)[4] (19,1.22)[1] (20,1.22)[1] (21,2.44)[2] (22,1.22)[1] (23,9.76)[8] (24,1.22)[1] (26,1.22)[1] (28,1.22)[1] (29,2.44)[2] (30,2.44)[2] (31,1.22)[1] (32,1.22)[1] (33,1.22)[1] (34,2.44)[2] (36,1.22)[1] (37,2.44)[2] (38,1.22)[1] (39,1.22)[1]};
\addlegendentry{UVR-low}
\node[rotate=90, font=\fs{8.5}] at (axis description cs:-0.0305,0.5) {\% mutated samples};
\end{axis}

% ---------------- panel letters ----------------
\node[font=\bfseries\fs{14}, inner sep=0pt] at (9.5pt,779.5pt) {a};
\node[font=\bfseries\fs{14}, inner sep=0pt] at (11pt,585pt) {b};
\node[font=\bfseries\fs{14}, inner sep=0pt] at (10.5pt,504pt) {c};
\node[font=\bfseries\fs{14}, inner sep=0pt] at (118.5pt,585pt) {d};
\node[font=\bfseries\fs{14}, inner sep=0pt] at (10pt,426pt) {e};
\node[font=\bfseries\fs{14}, inner sep=0pt] at (8.5pt,309.5pt) {f};
\node[font=\bfseries\fs{14}, inner sep=0pt] at (10pt,151.5pt) {g};
\end{tikzpicture}
\end{document}
